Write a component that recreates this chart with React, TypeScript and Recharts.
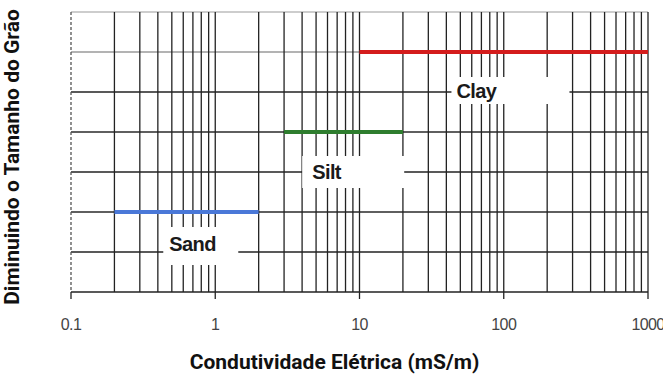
import { ComposedChart, Line, XAxis, YAxis, ReferenceLine, ReferenceDot } from 'recharts';

// x axis (log): decade labels and minor grid positions
const xTicks = [0.1, 1, 10, 100, 1000];
const xTickLabels = ['0.1', '1', '10', '100', '1000'];
const decades = [0.1, 1, 10, 100];
const multipliers = [1, 2, 3, 4, 5, 6, 7, 8, 9];
const gridX = [...decades.flatMap((d) => multipliers.map((m) => +(d * m).toPrecision(3))), 1000];

// y axis: unitless levels
const yTicks = [0, 1, 2, 3, 4, 5, 6, 7];

// conductivity ranges per soil type (mS/m) and their level
const sandRange = [0.2, 2];
const siltRange = [3, 20];
const clayRange = [10, 1000];
const sandLevel = 2;
const siltLevel = 4;
const clayLevel = 6;

// text labels
const labelNames = ['Sand', 'Silt', 'Clay'];
const labelX = [0.48, 4.7, 47];
const labelLevel = [1, 3, 5];

const sandData = sandRange.map((x) => ({ x, y: sandLevel }));
const siltData = siltRange.map((x) => ({ x, y: siltLevel }));
const clayData = clayRange.map((x) => ({ x, y: clayLevel }));

// white box around each label, in pixels relative to the anchor
const boxStyle = [
  { dx: -6, dy: -25, w: 75, h: 38, base: -1 },
  { dx: -10, dy: -16, w: 102, h: 32, base: 7 },
  { dx: -5, dy: -15, w: 118, h: 27, base: 6 },
];

const hStroke = ['#222', '#222', '#2a2a2a', '#222', '#2a2a2a', '#222', '#9a9a9a', '#bdbdbd'];

function LabelBox({ cx, cy, i }: { cx?: number; cy?: number; i: number }) {
  if (cx == null || cy == null) return null;
  const s = boxStyle[i];
  return (
    <g>
      <rect x={cx + s.dx} y={cy + s.dy} width={s.w} height={s.h} fill="#fff" />
      <text
        x={cx}
        y={cy + s.base}
        fill="#1a1a1a"
        fontSize={20}
        fontWeight={700}
        fontFamily="'Liberation Sans', Arial, sans-serif"
        letterSpacing={-0.6}
      >
        {labelNames[i]}
      </text>
    </g>
  );
}

export default function App() {
  return (
    <div style={{ position: 'absolute', left: 0, top: 0, width: 663, height: 377, background: '#fff' }}>
      <ComposedChart width={663} height={377} margin={{ top: 12, right: 15, bottom: 25, left: 41 }}>
        <XAxis
          type="number"
          dataKey="x"
          scale="log"
          domain={[0.1, 1000]}
          ticks={xTicks}
          interval={0}
          allowDataOverflow
          height={60}
          tickSize={7}
          tickMargin={20}
          tickFormatter={(v: number) => xTickLabels[xTicks.indexOf(v)] ?? String(v)}
          tick={{ fontSize: 16, fill: '#444', fontFamily: "'Liberation Sans', Arial, sans-serif", letterSpacing: -0.6 }}
          axisLine={{ stroke: '#222', strokeWidth: 1.3 }}
          tickLine={{ stroke: '#222', strokeWidth: 1.3 }}
        />
        <YAxis
          type="number"
          domain={[0, 7]}
          ticks={yTicks}
          interval={0}
          width={30}
          tickSize={5}
          tick={false}
          axisLine={{ stroke: '#555', strokeDasharray: '3 2', strokeWidth: 1.3 }}
          tickLine={{ stroke: '#bbb' }}
        />
        {yTicks.slice(1).map((v) => (
          <ReferenceLine key={'h' + v} y={v} stroke={hStroke[v]} strokeWidth={1.3} />
        ))}
        {gridX.slice(1).map((v) => (
          <ReferenceLine key={'v' + v} x={v} stroke="#222" strokeWidth={1.3} />
        ))}
        <Line data={sandData} dataKey="y" stroke="#4a78d8" strokeWidth={4} dot={false} isAnimationActive={false} />
        <Line data={siltData} dataKey="y" stroke="#2e7d2e" strokeWidth={4} dot={false} isAnimationActive={false} />
        <Line data={clayData} dataKey="y" stroke="#d41c1c" strokeWidth={4} dot={false} isAnimationActive={false} />
        {labelNames.map((n, i) => (
          <ReferenceDot
            key={n}
            x={labelX[i]}
            y={labelLevel[i]}
            r={0}
            shape={(p: any) => <LabelBox cx={p.cx} cy={p.cy} i={i} />}
          />
        ))}
      </ComposedChart>
      <div
        style={{
          position: 'absolute',
          left: 0,
          width: 663,
          top: 350,
          textAlign: 'center',
          paddingLeft: 3,
          fontFamily: 'Roboto, sans-serif',
          fontWeight: 700,
          fontSize: 21,
          color: '#111',
          lineHeight: '24px',
        }}
      >
        Condutividade Elétrica (mS/m)
      </div>
      <div
        style={{
          position: 'absolute',
          left: 12,
          top: 157,
          transform: 'translate(-50%, -50%) rotate(-90deg)',
          whiteSpace: 'nowrap',
          fontFamily: 'Roboto, sans-serif',
          fontWeight: 700,
          fontSize: 21,
          color: '#111',
          lineHeight: '24px',
        }}
      >
        Diminuindo o Tamanho do Grão
      </div>
    </div>
  );
}
